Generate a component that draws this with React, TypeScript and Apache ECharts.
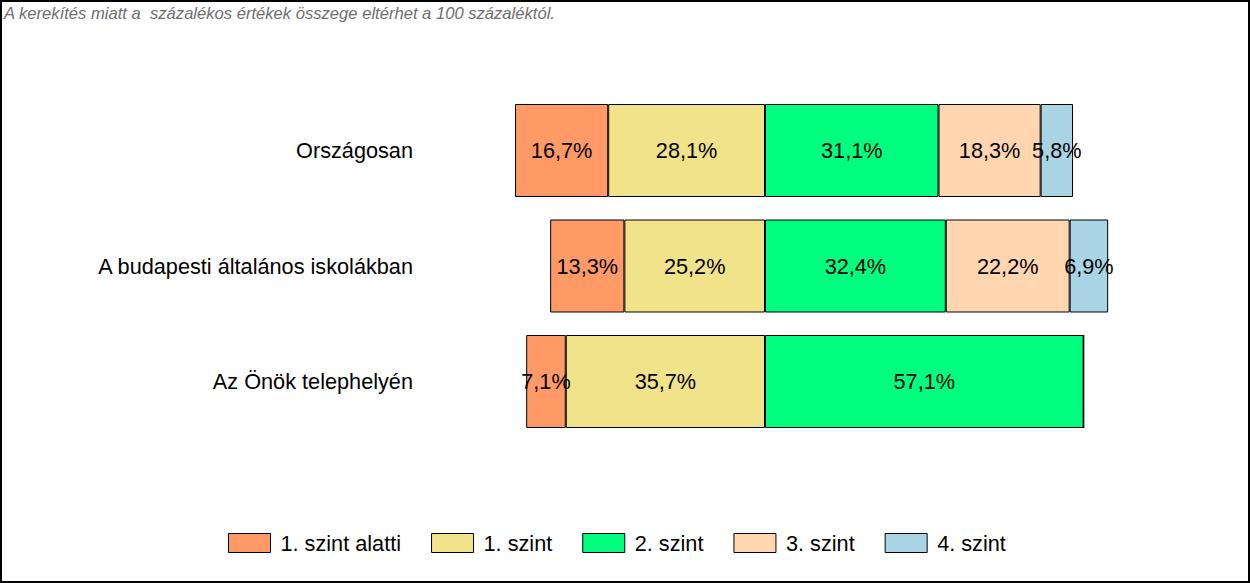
import React, { useEffect, useRef } from "react";
import * as echarts from "echarts";

const categories = ["Országosan", "A budapesti általános iskolákban", "Az Önök telephelyén"];
const seriesNames = ["1. szint alatti", "1. szint", "2. szint", "3. szint", "4. szint"];
const belowLevel1 = [16.7, 13.3, 7.1];
const level1 = [28.1, 25.2, 35.7];
const level2 = [31.1, 32.4, 57.1];
const level3 = [18.3, 22.2, 0];
const level4 = [5.8, 6.9, 0];
const colors = ["#FF9966", "#F0E38A", "#00FF7F", "#FFD6B0", "#A9D4E4"];
const note = "A kerekítés miatt a  százalékos értékek összege eltérhet a 100 százaléktól.";

const FONT = "'Liberation Sans', Arial, sans-serif";
const FS = 21.7;

export default function App() {
  const ref = useRef<HTMLDivElement>(null);
  useEffect(() => {
    if (!ref.current) return;
    const chart = echarts.init(ref.current, undefined, { renderer: "svg" });
    const fmt = (p: any) => {
      const v = Math.abs(Number(p.value));
      return v === 0 ? "" : v.toFixed(1).replace(".", ",") + "%";
    };
    const mk = (name: string, data: number[], color: string) => ({
      name,
      type: "bar",
      stack: "total",
      data,
      barCategoryGap: "19.5%",
      itemStyle: { color, borderColor: "#000", borderWidth: 1 },
      label: {
        show: true,
        position: "inside",
        formatter: fmt,
        color: "#000",
        fontSize: FS,
        fontFamily: FONT,
      },
    });
    chart.setOption({
      animation: false,
      backgroundColor: "#fff",
      textStyle: { fontFamily: FONT },
      graphic: [
        {
          type: "rect",
          shape: { x: 1, y: 1, width: 1248, height: 581 },
          style: { fill: "none", stroke: "#000", lineWidth: 2 },
          silent: true,
          z: 100,
        },
        {
          type: "text",
          x: 4,
          y: 5,
          style: {
            text: note,
            fill: "#6E6E6E",
            fontSize: 16.6,
            fontStyle: "italic",
            fontFamily: FONT,
          },
        },
      ],
      legend: {
        data: seriesNames,
        left: 228,
        top: 532,
        padding: 0,
        itemWidth: 42,
        itemHeight: 19,
        itemGap: 30,
        textStyle: {
          fontSize: FS,
          lineHeight: 22,
          color: "#000",
          fontFamily: FONT,
          padding: [0, 0, 0, 5],
        },
        itemStyle: { borderColor: "#000", borderWidth: 1 },
        icon: "rect",
      },
      grid: { left: 430.2, right: 94.4, top: 92.75, height: 346.5, containLabel: false },
      xAxis: {
        type: "value",
        min: -60,
        max: 70,
        show: false,
      },
      yAxis: {
        type: "category",
        data: categories,
        inverse: true,
        axisLine: { show: false },
        axisTick: { show: false },
        axisLabel: { fontSize: FS, color: "#000", margin: 17.2, fontFamily: FONT },
      },
      series: [
        mk(seriesNames[1], level1.map((v) => -v), colors[1]),
        mk(seriesNames[0], belowLevel1.map((v) => -v), colors[0]),
        mk(seriesNames[2], level2, colors[2]),
        mk(seriesNames[3], level3, colors[3]),
        mk(seriesNames[4], level4, colors[4]),
      ],
    });
    return () => chart.dispose();
  }, []);
  return (
    <div
      ref={ref}
      style={{ position: "absolute", left: 0, top: 0, width: 1250, height: 583 }}
    />
  );
}
